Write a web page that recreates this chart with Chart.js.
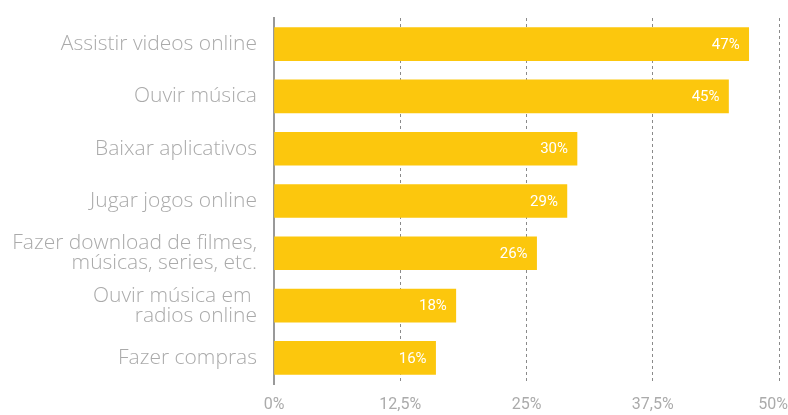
<!DOCTYPE html>
<html lang="pt">
<head>
    <meta charset="UTF-8">
    <title>Atividades online</title>
    <script src="https://cdn.jsdelivr.net/npm/chart.js"></script>
    <style>
        html, body { margin: 0; padding: 0; background: #fff; }
        .chart-box { width: 788px; height: 415px; position: relative; }
    </style>
</head>
<body>
<div class="chart-box"><canvas id="chart"></canvas></div>
<script>
const categories = [
    'Assistir videos online',
    'Ouvir música',
    'Baixar aplicativos',
    'Jugar jogos online',
    ['Fazer download de filmes,', 'músicas, series, etc.'],
    ['Ouvir música em ', 'radios online'],
    'Fazer compras'
];
const values = [47, 45, 30, 29, 26, 18, 16];
const tickValues = [0, 12.5, 25, 37.5, 50];

const yellow = '#FCC70D';

// white percentage labels at the end of each bar
const barLabels = {
    id: 'barLabels',
    afterDatasetsDraw(chart) {
        const ctx = chart.ctx;
        const meta = chart.getDatasetMeta(0);
        ctx.save();
        ctx.font = '15px Roboto';
        ctx.fillStyle = '#fff';
        ctx.textAlign = 'right';
        ctx.textBaseline = 'middle';
        meta.data.forEach((bar, i) => {
            ctx.fillText(values[i] + '%', bar.x - 9, bar.y + 1);
        });
        ctx.restore();
    }
};

new Chart(document.getElementById('chart'), {
    type: 'bar',
    data: {
        labels: categories,
        datasets: [{
            data: values,
            backgroundColor: yellow,
            barThickness: 33
        }]
    },
    options: {
        indexAxis: 'y',
        responsive: true,
        maintainAspectRatio: false,
        animation: false,
        layout: { padding: { top: 18, right: 0 } },
        plugins: { legend: { display: false }, tooltip: { enabled: false } },
        scales: {
            x: {
                min: 0,
                max: 50,
                afterBuildTicks: scale => { scale.ticks = tickValues.map(v => ({ value: v })); },
                afterFit: scale => { scale.height = 31; scale.paddingRight = 9; },
                border: { display: false, dash: [3, 3] },
                grid: {
                    drawTicks: false,
                    color: c => c.tick.value === 0 ? 'rgba(0,0,0,0)' : '#8a8a8a',
                    lineWidth: 1
                },
                ticks: {
                    padding: 11,
                    color: '#ababab',
                    font: { family: 'Roboto', size: 16 },
                    // last label sits a bit left so it stays inside the canvas
                    callback: v => String(v).replace('.', ',') + '%' + (v === 50 ? '   ' : '')
                }
            },
            y: {
                afterFit: scale => { scale.width = 274; scale.paddingTop = 0; scale.paddingBottom = 0; },
                border: { display: true, color: '#999', width: 2 },
                grid: { display: false, drawTicks: false },
                ticks: {
                    padding: 17,
                    color: '#aaa',
                    font: { family: 'Open Sans', weight: 300, size: 21, lineHeight: 0.95 }
                }
            }
        }
    },
    plugins: [barLabels]
});
</script>
</body>
</html>
